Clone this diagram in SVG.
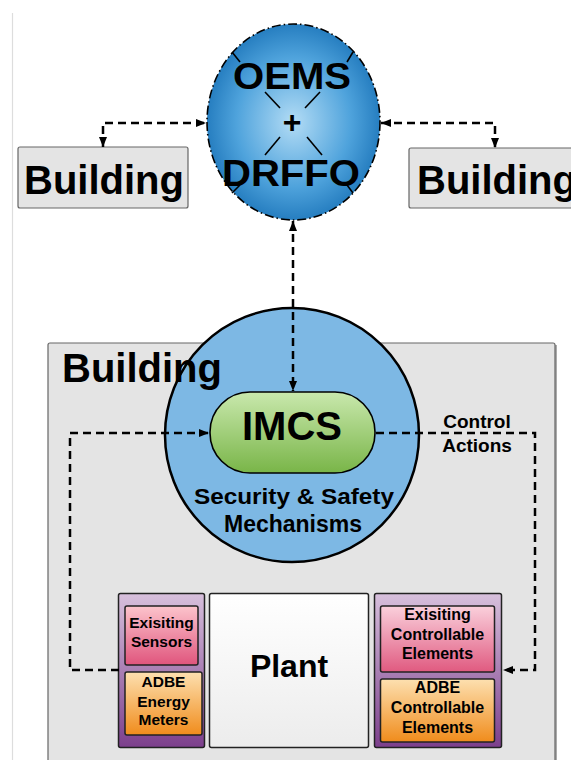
<svg xmlns="http://www.w3.org/2000/svg" width="571" height="760" viewBox="0 0 571 760">
<defs>
  <radialGradient id="gOems" cx="50%" cy="50%" r="55%">
    <stop offset="0" stop-color="#b3dcf5"/>
    <stop offset="0.6" stop-color="#4fa3dc"/>
    <stop offset="1" stop-color="#1a73b8"/>
  </radialGradient>
  <linearGradient id="gGreen" x1="0" y1="0" x2="0" y2="1">
    <stop offset="0" stop-color="#c9e8ad"/>
    <stop offset="1" stop-color="#79b548"/>
  </linearGradient>
  <linearGradient id="gPurple" x1="0" y1="0" x2="0" y2="1">
    <stop offset="0" stop-color="#d7c0dc"/>
    <stop offset="1" stop-color="#7c3f8c"/>
  </linearGradient>
  <linearGradient id="gPink" x1="0" y1="0" x2="0" y2="1">
    <stop offset="0" stop-color="#fcc4cc"/>
    <stop offset="1" stop-color="#e0557d"/>
  </linearGradient>
  <linearGradient id="gPinkR" x1="0" y1="0" x2="0" y2="1">
    <stop offset="0" stop-color="#fad0dc"/>
    <stop offset="1" stop-color="#e05a80"/>
  </linearGradient>
  <linearGradient id="gOrange" x1="0" y1="0" x2="0" y2="1">
    <stop offset="0" stop-color="#fde0b0"/>
    <stop offset="1" stop-color="#f08c1c"/>
  </linearGradient>
  <linearGradient id="gPlant" x1="0" y1="0" x2="0" y2="1">
    <stop offset="0" stop-color="#ffffff"/>
    <stop offset="1" stop-color="#ececec"/>
  </linearGradient>
  <marker id="ah" viewBox="0 0 10 10" refX="10" refY="5" markerWidth="10" markerHeight="10" markerUnits="userSpaceOnUse" orient="auto-start-reverse">
    <path d="M0,1 L10,5 L0,9 Z" fill="#000"/>
  </marker>
  <style>
    .t { font-family: "Liberation Sans", Arial, sans-serif; font-weight: bold; fill: #000; text-anchor: middle; }
    .ts { text-anchor: start; }
    .conn { fill: none; stroke: #000; stroke-width: 2.5; stroke-dasharray: 8 5; }
    .bldg { fill: #e4e4e4; stroke: #666; stroke-width: 1.2; }
    .sub { stroke: #222; stroke-width: 1.5; }
    .xl { stroke: #000; stroke-width: 1.6; }
  </style>
</defs>
<rect width="571" height="760" fill="#fff"/>
<line x1="12.5" y1="13" x2="12.5" y2="760" stroke="#ddd" stroke-width="1.2"/>

<g id="building-main">
  <rect x="50" y="345" width="507" height="430" fill="#aaa"/>
  <rect class="bldg" x="48" y="343" width="507" height="430" rx="2"/>
</g>

<g id="building-left">
  <rect class="bldg" x="18" y="147" width="170" height="61" rx="2"/>
  <text class="t" x="104" y="194" font-size="40">Building</text>
</g>

<g id="building-right">
  <rect class="bldg" x="409" y="148" width="175" height="60" rx="2"/>
  <text class="t ts" x="417" y="194" font-size="40">Building</text>
</g>

<g id="oems">
  <ellipse cx="293.5" cy="122" rx="86.5" ry="98" fill="url(#gOems)" stroke="#000" stroke-width="1.6" stroke-dasharray="9 3 1.5 3"/>
  <line class="xl" x1="232" y1="52" x2="240" y2="62"/>
  <line class="xl" x1="265" y1="92" x2="280" y2="108"/>
  <line class="xl" x1="307" y1="137" x2="322" y2="155"/>
  <line class="xl" x1="347" y1="185" x2="353" y2="193"/>
  <line class="xl" x1="353" y1="52" x2="347" y2="62"/>
  <line class="xl" x1="320" y1="92" x2="305" y2="108"/>
  <line class="xl" x1="280" y1="137" x2="265" y2="155"/>
  <line class="xl" x1="240" y1="185" x2="232" y2="193"/>
  <text class="t" x="292" y="89" font-size="37" textLength="118" lengthAdjust="spacingAndGlyphs">OEMS</text>
  <text class="t" x="292" y="133" font-size="32">+</text>
  <text class="t" x="291" y="186" font-size="37" textLength="138" lengthAdjust="spacingAndGlyphs">DRFFO</text>
</g>

<g id="security">
  <circle cx="292" cy="435" r="127" fill="#7db8e4" stroke="#000" stroke-width="2.5"/>
  <text class="t" x="294" y="504" font-size="22" textLength="200" lengthAdjust="spacingAndGlyphs">Security &amp; Safety</text>
  <text class="t" x="293" y="532" font-size="23">Mechanisms</text>
</g>

<g id="building-main-label">
  <text class="t ts" x="62" y="382" font-size="40">Building</text>
</g>

<g id="imcs">
  <rect x="210" y="392" width="165" height="81" rx="40" fill="url(#gGreen)" stroke="#000" stroke-width="1.6"/>
  <text class="t" x="292" y="440" font-size="40">IMCS</text>
</g>

<g id="sensors-group">
  <rect class="sub" x="118.5" y="593.5" width="86" height="154" rx="2" fill="url(#gPurple)"/>
  <rect class="sub" x="125" y="606" width="73" height="59" rx="2" fill="url(#gPink)"/>
  <text class="t" x="161.5" y="628" font-size="15.5">Exisiting</text>
  <text class="t" x="161.5" y="647" font-size="15.5">Sensors</text>
  <rect class="sub" x="125" y="672" width="77" height="63" rx="2" fill="url(#gOrange)"/>
  <text class="t" x="163.5" y="687" font-size="15.5">ADBE</text>
  <text class="t" x="163.5" y="707" font-size="15.5">Energy</text>
  <text class="t" x="163.5" y="725" font-size="15.5">Meters</text>
</g>

<g id="plant">
  <rect class="sub" x="209.5" y="593.5" width="159" height="154" rx="2" fill="url(#gPlant)"/>
  <text class="t" x="289" y="677" font-size="32">Plant</text>
</g>

<g id="controllable-group">
  <rect class="sub" x="374.5" y="593.5" width="127" height="154" rx="2" fill="url(#gPurple)"/>
  <rect class="sub" x="380.5" y="606" width="114" height="66" rx="2" fill="url(#gPinkR)"/>
  <text class="t" x="437.5" y="620" font-size="16">Exisiting</text>
  <text class="t" x="437.5" y="640" font-size="16">Controllable</text>
  <text class="t" x="437.5" y="659" font-size="16">Elements</text>
  <rect class="sub" x="380.5" y="679" width="114" height="63" rx="2" fill="url(#gOrange)"/>
  <text class="t" x="437.5" y="693" font-size="16">ADBE</text>
  <text class="t" x="437.5" y="713" font-size="16">Controllable</text>
  <text class="t" x="437.5" y="733" font-size="16">Elements</text>
</g>

<g id="connectors">
  <path class="conn" d="M103,147 L103,123 L206,123" marker-start="url(#ah)" marker-end="url(#ah)"/>
  <path class="conn" d="M381,123 L495,123 L495,148" marker-start="url(#ah)" marker-end="url(#ah)"/>
  <path class="conn" d="M293,221 L293,391" marker-start="url(#ah)" marker-end="url(#ah)"/>
  <path class="conn" d="M119,670 L70,670 L70,433 L209,433" marker-end="url(#ah)"/>
  <path class="conn" d="M376,433 L535,433 L535,670 L503,670" marker-end="url(#ah)"/>
  <text class="t" x="477" y="428" font-size="19">Control</text>
  <text class="t" x="477" y="452" font-size="19">Actions</text>
</g>
</svg>
